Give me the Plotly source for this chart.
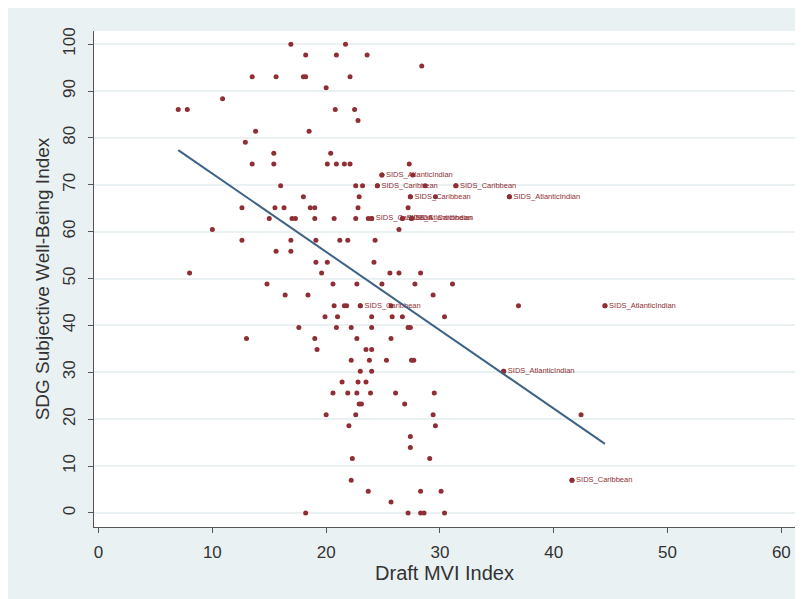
import plotly.graph_objects as go

# Draft MVI Index (x) and SDG Subjective Well-Being Index (y) for each country
mvi_index = [
    16.9, 21.7,
    18.2, 20.9, 23.6,
    28.4,
    13.5, 15.6, 18.0, 18.2, 22.1,
    20.0,
    10.9,
    7.0, 7.8, 20.8, 22.5,
    22.8,
    13.8, 18.5,
    12.9,
    15.4, 20.4,
    13.5, 15.4, 20.1, 20.9, 21.6, 22.1, 27.3,
    24.9, 27.6,
    16.0, 22.6, 23.2, 24.5, 28.7, 31.4,
    18.0, 22.9, 27.4, 29.6, 36.1,
    12.6, 15.5, 16.3, 18.6, 19.0, 22.8, 27.2,
    15.0, 17.0, 17.3, 19.0, 20.7, 22.6, 23.7, 24.0, 26.7, 27.5,
    10.0, 26.4,
    12.6, 16.9, 19.1, 21.2, 21.9, 24.3,
    15.6, 16.9,
    19.1, 20.1, 24.2,
    8.0, 19.6, 25.6, 26.4, 28.3,
    14.8, 20.6, 22.7, 24.9, 27.8, 31.1,
    16.4, 18.4, 29.4,
    20.7, 21.6, 21.8, 23.0, 25.7, 36.9, 44.5,
    19.9, 21.0, 24.0, 25.8, 26.7, 30.4,
    17.6, 20.9, 22.2, 24.0, 27.2, 27.4,
    13.0, 19.0, 22.7, 25.7,
    19.2, 23.5, 24.0,
    22.2, 23.8, 25.3, 27.5, 27.7,
    23.0, 24.0, 35.6,
    21.4, 22.8, 23.5,
    20.6, 21.9, 22.7, 23.9, 26.1, 29.5,
    22.9, 23.1, 26.9,
    20.0, 22.6, 29.4, 42.4,
    22.0, 29.6,
    27.4,
    27.4,
    22.3, 29.1,
    22.2, 41.6,
    23.7, 28.3, 30.1,
    25.7,
    18.2, 27.2, 28.3, 28.6, 30.4,
]

wellbeing_index = [
    100.00, 100.00,
    97.67, 97.67, 97.67,
    95.35,
    93.02, 93.02, 93.02, 93.02, 93.02,
    90.70,
    88.37,
    86.05, 86.05, 86.05, 86.05,
    83.72,
    81.40, 81.40,
    79.07,
    76.74, 76.74,
    74.42, 74.42, 74.42, 74.42, 74.42, 74.42, 74.42,
    72.09, 72.09,
    69.77, 69.77, 69.77, 69.77, 69.77, 69.77,
    67.44, 67.44, 67.44, 67.44, 67.44,
    65.12, 65.12, 65.12, 65.12, 65.12, 65.12, 65.12,
    62.79, 62.79, 62.79, 62.79, 62.79, 62.79, 62.79, 62.79, 62.79, 62.79,
    60.47, 60.47,
    58.14, 58.14, 58.14, 58.14, 58.14, 58.14,
    55.81, 55.81,
    53.49, 53.49, 53.49,
    51.16, 51.16, 51.16, 51.16, 51.16,
    48.84, 48.84, 48.84, 48.84, 48.84, 48.84,
    46.51, 46.51, 46.51,
    44.19, 44.19, 44.19, 44.19, 44.19, 44.19, 44.19,
    41.86, 41.86, 41.86, 41.86, 41.86, 41.86,
    39.53, 39.53, 39.53, 39.53, 39.53, 39.53,
    37.21, 37.21, 37.21, 37.21,
    34.88, 34.88, 34.88,
    32.56, 32.56, 32.56, 32.56, 32.56,
    30.23, 30.23, 30.23,
    27.91, 27.91, 27.91,
    25.58, 25.58, 25.58, 25.58, 25.58, 25.58,
    23.26, 23.26, 23.26,
    20.93, 20.93, 20.93, 20.93,
    18.60, 18.60,
    16.28,
    13.95,
    11.63, 11.63,
    6.98, 6.98,
    4.65, 4.65, 4.65,
    2.33,
    0.00, 0.00, 0.00, 0.00, 0.00,
]

# Labelled small island developing states
sids_mvi = [24.9, 24.5, 31.4, 27.4, 36.1, 24.0, 26.7, 27.5, 23.0, 44.5, 35.6, 41.6]
sids_wellbeing = [72.09, 69.77, 69.77, 67.44, 67.44, 62.79, 62.79, 62.79, 44.19, 44.19, 30.23, 6.98]
sids_label = [
    "SIDS_AtlanticIndian", "SIDS_Caribbean", "SIDS_Caribbean", "SIDS_Caribbean",
    "SIDS_AtlanticIndian", "SIDS_Caribbean", "SIDS_AtlanticIndian", "SIDS_Caribbean",
    "SIDS_Caribbean", "SIDS_AtlanticIndian", "SIDS_AtlanticIndian", "SIDS_Caribbean",
]

# Linear fit
fit_intercept = 89.1
fit_slope = -1.671

x_ticks = [0, 10, 20, 30, 40, 50, 60]
y_ticks = [0, 10, 20, 30, 40, 50, 60, 70, 80, 90, 100]

marker_color = "#8f2f35"
line_color = "#3d6286"
region_color = "#eaf1f3"
text_color = "#333333"
FONT = "Liberation Sans, Arial, sans-serif"

fit_x = [min(mvi_index), max(mvi_index)]
fit_y = [fit_intercept + fit_slope * v for v in fit_x]

fig = go.Figure()
fig.add_trace(go.Scatter(
    x=mvi_index, y=wellbeing_index, mode="markers",
    marker=dict(color=marker_color, size=5, line=dict(width=0)),
    showlegend=False, hoverinfo="x+y",
))
fig.add_trace(go.Scatter(
    x=sids_mvi, y=sids_wellbeing, text=sids_label, mode="markers+text",
    textposition="middle right",
    textfont=dict(family=FONT, size=7.5, color=marker_color),
    marker=dict(color=marker_color, size=5, line=dict(width=0)),
    showlegend=False,
))
fig.add_trace(go.Scatter(
    x=fit_x, y=fit_y, mode="lines",
    line=dict(color=line_color, width=2),
    showlegend=False, hoverinfo="skip",
))

# page body has an 8px margin; figure sits at (8, 8)
W, H = 795, 591
L, R, T, B = 86, 8, 23, 72

fig.update_layout(
    width=W, height=H,
    margin=dict(l=L, r=R, t=T, b=B, pad=0),
    paper_bgcolor=region_color,
    plot_bgcolor="white",
    font=dict(family=FONT, color=text_color),
    xaxis=dict(
        range=[-0.4, 61.2], tickvals=x_ticks, ticktext=[str(t) for t in x_ticks],
        showgrid=False, zeroline=False, showline=True, linecolor="#555555", linewidth=1,
        ticks="outside", ticklen=5, tickcolor="#555555", ticklabelstandoff=5,
        tickfont=dict(size=17, color=text_color),
        title=dict(text="Draft MVI Index", font=dict(size=20, color=text_color), standoff=2),
    ),
    yaxis=dict(
        range=[-3.0, 102.8], tickvals=y_ticks, ticktext=[str(t) for t in y_ticks],
        showgrid=True, gridcolor=region_color, gridwidth=1.5, zeroline=False,
        showline=True, linecolor="#555555", linewidth=1,
        ticks="outside", ticklen=5, tickcolor="#555555", tickangle=-90, ticklabelstandoff=6,
        tickfont=dict(size=17, color=text_color),
        title=dict(text="SDG Subjective Well-Being Index", font=dict(size=19, color=text_color), standoff=5),
    ),
)

fig.write_html("out.html")
